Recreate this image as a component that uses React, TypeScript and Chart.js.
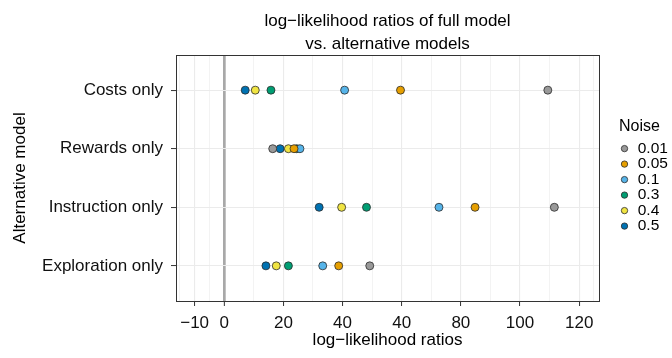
import React, { useEffect, useRef } from "react";
import { Chart, registerables } from "chart.js";

Chart.register(...registerables);

// ---- data ----
const categories = ["Costs only", "Rewards only", "Instruction only", "Exploration only"];
const noiseLevels = ["0.01", "0.05", "0.1", "0.3", "0.4", "0.5"];
const noiseColors = ["#999999", "#E69F00", "#56B4E9", "#009E73", "#F0E442", "#0072B2"];

// values per category, in the order of `categories`
const noise001 = [109.4, 16.4, 111.6, 49.2];
const noise005 = [59.6, 23.6, 84.8, 38.7];
const noise01 = [40.7, 25.6, 72.6, 33.3];
const noise03 = [15.8, 24.5, 48.1, 21.7];
const noise04 = [10.5, 21.7, 39.7, 17.6];
const noise05 = [7.1, 18.9, 32.1, 14.1];
const seriesValues = [noise001, noise005, noise01, noise03, noise04, noise05];

const xTickValues = [-10, 0, 20, 40, 60, 80, 100, 120];
const xTickLabels = ["\u221210", "0", "20", "40", "40", "80", "100", "120"];
const xMinorGrid = [-15, -5, 10, 30, 50, 70, 90, 110, 125];
const xMin = -16.3;
const xMax = 126.7;

const FONT = "'Liberation Sans', Arial, Helvetica, sans-serif";

export default function App() {
  const ref = useRef<HTMLCanvasElement>(null);

  useEffect(() => {
    if (!ref.current) return;
    const datasets = noiseLevels.map((lvl, i) => ({
      label: lvl,
      data: seriesValues[i].map((v, j) => ({ x: v, y: j })),
      backgroundColor: noiseColors[i],
      borderColor: "#2b2b2b",
      borderWidth: 0.8,
      pointRadius: 4,
      pointHoverRadius: 4,
      pointStyle: "circle",
    }));
    const allX = [...xMinorGrid, ...xTickValues].sort((a, b) => a - b);
    const isMajor = (v: any) => xTickValues.includes(v);

    const chart = new Chart(ref.current, {
      type: "scatter",
      data: { datasets } as any,
      options: {
        animation: false,
        responsive: false,
        events: [],
        layout: { padding: { top: 0, left: 0, right: 0, bottom: 6 } },
        plugins: {
          legend: {
            position: "right",
            align: "center",
            maxWidth: 53,
            title: {
              display: true,
              text: "Noise",
              position: "start",
              color: "#000",
              font: { family: FONT, size: 16 },
              padding: { top: 0.5, bottom: 3 },
            },
            labels: {
              usePointStyle: true,
              boxWidth: 11,
              boxHeight: 4.5,
              padding: 0,
              color: "#000",
              font: { family: FONT, size: 15.5 },
            },
          },
          tooltip: { enabled: false },
        },
        scales: {
          x: {
            type: "linear",
            position: "bottom",
            min: xMin,
            max: xMax,
            afterBuildTicks: (s: any) => {
              s.ticks = allX.map((v) => ({ value: v }));
            },
            afterFit: (s: any) => {
              s.height = 51;
            },
            ticks: {
              autoSkip: false,
              maxRotation: 0,
              padding: 7.5,
              color: "#111",
              font: { family: FONT, size: 17 },
              callback: (v: any) => {
                const k = xTickValues.indexOf(v);
                return k >= 0 ? xTickLabels[k] : "";
              },
            },
            grid: {
              color: (c: any) => (c.tick && c.tick.value === 0 ? "#a8a8a8" : "#ebebeb"),
              lineWidth: (c: any) =>
                c.tick && c.tick.value === 0 ? 2.7 : c.tick && isMajor(c.tick.value) ? 1.1 : 0.6,
              tickColor: (c: any) => (c.tick && isMajor(c.tick.value) ? "#333" : "rgba(0,0,0,0)"),
              tickLength: 5,
              tickWidth: 1,
            },
            border: { display: true, color: "#333", width: 1 },
            title: {
              display: true,
              text: "log\u2212likelihood ratios",
              color: "#000",
              font: { family: FONT, size: 17 },
              padding: { top: 0, bottom: 1 },
            },
          },
          x2: {
            type: "linear",
            position: "top",
            min: xMin,
            max: xMax,
            grid: { display: false, drawTicks: false },
            ticks: { display: false },
            border: { display: true, color: "#333", width: 1 },
            afterFit: (s: any) => {
              s.height = 55;
            },
            title: {
              display: true,
              text: ["log\u2212likelihood ratios of full model", "vs. alternative models"],
              color: "#000",
              font: { family: FONT, size: 17, lineHeight: "23px" },
              padding: { top: 9.5, bottom: 0 },
            },
          },
          y: {
            type: "linear",
            position: "left",
            min: -0.6,
            max: 3.6,
            reverse: true,
            afterBuildTicks: (s: any) => {
              s.ticks = categories.map((_, i) => ({ value: i }));
            },
            afterFit: (s: any) => {
              s.width = 176;
            },
            ticks: {
              autoSkip: false,
              padding: 8,
              color: "#111",
              font: { family: FONT, size: 17 },
              callback: (v: any) => (categories[v] !== undefined ? categories[v] : ""),
            },
            grid: { color: "#ebebeb", lineWidth: 1.1, tickColor: "#333", tickLength: 5, tickWidth: 1 },
            border: { display: true, color: "#333", width: 1 },
            title: {
              display: true,
              text: "Alternative model",
              color: "#000",
              font: { family: FONT, size: 17 },
              padding: { top: 10, bottom: 0 },
            },
          },
          y2: {
            type: "linear",
            position: "right",
            min: 0,
            max: 1,
            grid: { display: false, drawTicks: false },
            ticks: { display: false },
            border: { display: true, color: "#333", width: 1 },
            afterFit: (s: any) => {
              s.width = 20;
            },
          },
        },
      } as any,
    });
    return () => chart.destroy();
  }, []);

  return (
    <div style={{ position: "absolute", left: 0, top: 0, width: 672, height: 358, background: "#fff" }}>
      <canvas ref={ref} width={672} height={358} style={{ display: "block", width: 672, height: 358 }} />
    </div>
  );
}
